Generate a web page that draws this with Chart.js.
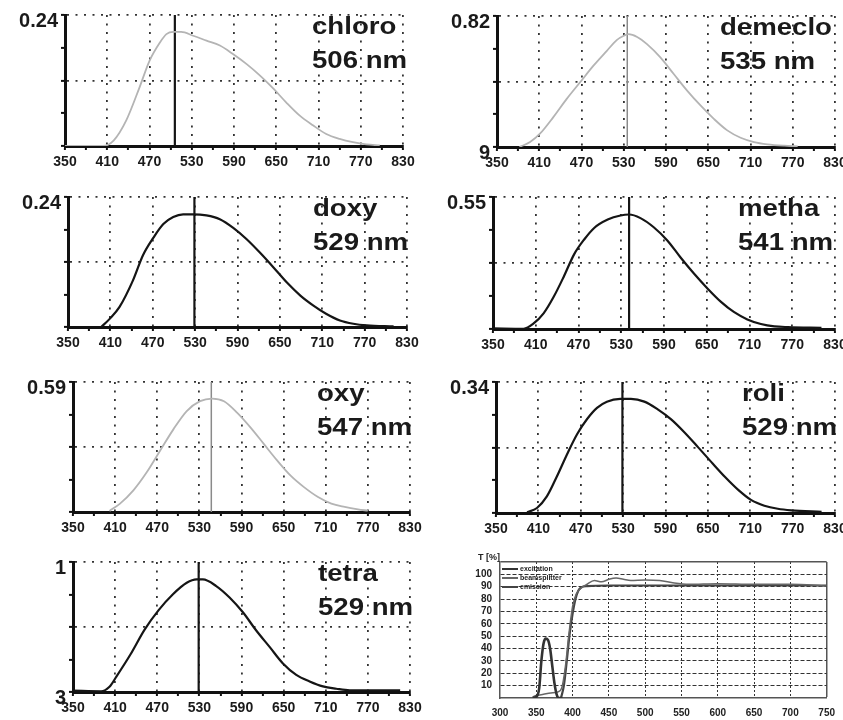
<!DOCTYPE html>
<html>
<head>
<meta charset="utf-8">
<script src="https://cdn.jsdelivr.net/npm/chart.js@4.4.0/dist/chart.umd.min.js"></script>
<style>
  html, body { margin: 0; padding: 0; background: #fff; }
  #fig { position: relative; width: 843px; height: 720px; overflow: hidden; background: #fff; }
  #fig canvas { position: absolute; }
</style>
</head>
<body>
<div id="fig"></div>
<script>
// emission spectra, wavelength (nm) vs intensity
const chloroWl  = [350, 385, 404, 419, 437, 456, 470, 485, 494, 504, 515, 532, 551, 570, 589, 608, 627, 646, 664, 683, 702, 721, 740, 759, 778, 797];
const chloroVal = [0, 0, 0, 0.010, 0.047, 0.108, 0.156, 0.190, 0.205, 0.209, 0.209, 0.202, 0.193, 0.184, 0.168, 0.150, 0.129, 0.105, 0.080, 0.056, 0.038, 0.022, 0.013, 0.007, 0.003, 0.001];

const demecloWl  = [382, 397, 411, 430, 449, 468, 487, 506, 520, 530, 537, 549, 563, 582, 601, 620, 639, 658, 677, 696, 715, 734, 758, 777];
const demecloVal = [0, 0.031, 0.083, 0.187, 0.301, 0.405, 0.509, 0.602, 0.669, 0.696, 0.706, 0.689, 0.644, 0.561, 0.457, 0.353, 0.260, 0.176, 0.104, 0.058, 0.031, 0.017, 0.008, 0.004];

const doxyWl  = [397, 409, 423, 442, 456, 471, 485, 499, 513, 527, 546, 565, 584, 603, 622, 641, 660, 679, 697, 716, 735, 754, 773, 811];
const doxyVal = [0, 0.015, 0.037, 0.086, 0.132, 0.165, 0.190, 0.203, 0.208, 0.208, 0.206, 0.199, 0.183, 0.162, 0.137, 0.110, 0.082, 0.058, 0.040, 0.024, 0.012, 0.006, 0.003, 0.001];

const methaWl  = [350, 393, 407, 421, 435, 449, 464, 478, 492, 511, 529, 541, 557, 576, 595, 613, 632, 651, 670, 688, 707, 726, 745, 764, 811];
const methaVal = [0.003, 0.001, 0.023, 0.065, 0.133, 0.216, 0.312, 0.373, 0.421, 0.456, 0.473, 0.477, 0.462, 0.423, 0.368, 0.299, 0.231, 0.169, 0.113, 0.071, 0.040, 0.021, 0.011, 0.008, 0.005];

const oxyWl  = [402, 417, 436, 455, 474, 493, 512, 531, 548, 565, 584, 603, 622, 641, 660, 679, 699, 718, 737, 756, 770];
const oxyVal = [0.005, 0.038, 0.098, 0.180, 0.278, 0.375, 0.458, 0.503, 0.515, 0.503, 0.450, 0.383, 0.308, 0.233, 0.165, 0.113, 0.068, 0.038, 0.023, 0.012, 0.006];

const roliWl  = [394, 408, 422, 436, 451, 465, 479, 493, 507, 526, 541, 560, 579, 598, 617, 636, 655, 674, 693, 711, 730, 749, 768, 811];
const roliVal = [0.002, 0.013, 0.043, 0.094, 0.154, 0.205, 0.244, 0.273, 0.289, 0.296, 0.296, 0.289, 0.269, 0.243, 0.209, 0.171, 0.132, 0.094, 0.060, 0.034, 0.019, 0.011, 0.007, 0.003];

const tetraWl  = [350, 390, 402, 412, 432, 452, 472, 492, 512, 526, 535, 554, 573, 592, 611, 630, 649, 668, 687, 706, 725, 744, 816];
const tetraVal = [0.01, 0.005, 0.04, 0.12, 0.29, 0.48, 0.63, 0.75, 0.84, 0.866, 0.866, 0.815, 0.727, 0.613, 0.473, 0.347, 0.22, 0.132, 0.081, 0.043, 0.025, 0.013, 0.013];

const names      = ['chloro', 'demeclo', 'doxy', 'metha', 'oxy', 'roli', 'tetra'];
const peaks      = [506, 535, 529, 541, 547, 529, 529];
const yMaxes     = [0.24, 0.82, 0.24, 0.55, 0.59, 0.34, 1];
const topLabels  = ['0.24', '0.82', '0.24', '0.55', '0.59', '0.34', '1'];
const botLabels  = ['', '9', '', '', '', '', '3'];
const xTickLabels = [350, 410, 470, 530, 590, 650, 710, 770, 830];

// filter transmission, T [%]
const excWl  = [345, 350, 354, 357, 360, 363, 366, 369, 372, 375, 378, 381, 386];
const excVal = [0, 1, 8, 30, 44, 48, 47, 40, 26, 12, 3, 0, 0];
const bsWl   = [345, 350, 360, 370, 380, 385, 390, 395, 400, 405, 410, 420, 430, 440, 450, 460, 470, 480, 500, 520, 540, 560, 600, 650, 700, 750];
const bsVal  = [1, 2, 3, 4, 5, 8, 25, 52, 74, 84, 88, 92, 95, 94, 96, 97, 96, 95, 95.5, 95, 93, 92, 92.5, 92, 92, 90.5];
const emWl   = [384, 388, 392, 396, 400, 404, 408, 412, 420, 450, 500, 550, 600, 650, 700, 750];
const emVal  = [0, 10, 30, 52, 68, 80, 87, 89.5, 90.5, 91, 91, 91, 91, 91, 91, 91];
const filterNames = ['excitation', 'beamsplitter', 'emission'];

// plot boxes on the page [left, top, right, bottom]
const boxes = [
  [65, 14, 403, 146], [497, 15, 835, 147],
  [68, 196, 407, 327], [493, 196, 835, 329],
  [73, 381, 410, 512], [496, 381, 835, 513],
  [73, 561, 410, 692]
];
const labelDx = [-91, -115, -94, -97, -93, -93, -92];
const grayCurve = [true, true, false, false, true, false, false];

Chart.defaults.font.family = "'Liberation Sans', Arial, sans-serif";
Chart.defaults.animation = false;

const fig = document.getElementById('fig');
const PAD_L = 60, PAD_T = 14, PAD_R = 16, PAD_B = 26;

function makeCanvas(left, top, w, h) {
  const c = document.createElement('canvas');
  c.width = w; c.height = h;
  c.style.left = left + 'px'; c.style.top = top + 'px';
  c.style.width = w + 'px'; c.style.height = h + 'px';
  fig.appendChild(c);
  return c;
}

const zip = (xs, ys) => xs.map((x, k) => ({ x: x, y: ys[k] }));

const panelText = {
  id: 'panelText',
  afterDraw(chart, args, opts) {
    const { ctx, chartArea } = chart;
    ctx.save();
    ctx.fillStyle = '#1a1a1a';
    ctx.font = "bold 24px 'Liberation Sans', Arial, sans-serif";
    ctx.textBaseline = 'alphabetic';
    const x = chartArea.right + opts.dx;
    [[opts.name, 19], [opts.nm, 53]].forEach(([t, dy]) => {
      ctx.save();
      ctx.translate(x, chartArea.top + dy);
      ctx.scale(1.15, 1);
      ctx.fillText(t, 0, 0);
      ctx.restore();
    });
    ctx.restore();
  }
};

const dots = [2, 6.5];

names.forEach((name, i) => {
  const b = boxes[i];
  const w = b[2] - b[0] + PAD_L + PAD_R;
  const h = b[3] - b[1] + PAD_T + PAD_B;
  const canvas = makeCanvas(b[0] - PAD_L, b[1] - PAD_T, w, h);
  const wl = [chloroWl, demecloWl, doxyWl, methaWl, oxyWl, roliWl, tetraWl][i];
  const val = [chloroVal, demecloVal, doxyVal, methaVal, oxyVal, roliVal, tetraVal][i];
  const curveColor = grayCurve[i] ? '#b4b4b4' : '#151515';
  const peakColor = grayCurve[i] && i !== 0 ? '#8a8a8a' : '#151515';

  new Chart(canvas, {
    type: 'line',
    data: {
      datasets: [
        {
          data: zip(wl, val),
          borderColor: curveColor,
          borderWidth: grayCurve[i] ? 1.8 : 2.2,
          pointRadius: 0,
          cubicInterpolationMode: 'monotone',
          fill: false
        },
        {
          data: [{ x: peaks[i], y: 0 }, { x: peaks[i], y: yMaxes[i] }],
          borderColor: peakColor,
          borderWidth: peakColor === '#151515' ? 2.2 : 1.5,
          pointRadius: 0,
          tension: 0
        }
      ]
    },
    options: {
      responsive: false,
      layout: { padding: { top: PAD_T, right: PAD_R, left: 0, bottom: 0 } },
      plugins: {
        legend: { display: false },
        tooltip: { enabled: false },
        panelText: { name: name, nm: peaks[i] + ' nm', dx: labelDx[i] }
      },
      scales: {
        x: {
          type: 'linear', min: 350, max: 830,
          ticks: {
            stepSize: 30, autoSkip: false, maxRotation: 0, padding: 4,
            color: '#1a1a1a', font: { size: 14, weight: 'bold' },
            callback: v => xTickLabels.includes(v) ? String(v) : ''
          },
          grid: {
            color: c => (c.index > 0 && c.index % 2 === 0) ? '#333' : 'rgba(0,0,0,0)',
            lineWidth: 1.8, tickColor: '#111', tickLength: 4, tickWidth: 2
          },
          border: { color: '#111', width: 3, dash: dots },
          afterFit: s => { s.height = PAD_B; }
        },
        y: {
          min: 0, max: yMaxes[i],
          ticks: {
            count: 5, autoSkip: false, padding: 3, labelOffset: 6,
            color: '#1a1a1a', font: { size: 20, weight: 'bold' },
            callback: (v, k) => k === 4 ? topLabels[i] : (k === 0 ? botLabels[i] : '')
          },
          grid: {
            color: c => (c.index === 2 || c.index === 4) ? '#333' : 'rgba(0,0,0,0)',
            lineWidth: 1.8, tickColor: '#111', tickLength: 4, tickWidth: 2
          },
          border: { color: '#111', width: 3, dash: dots },
          afterFit: s => { s.width = PAD_L; }
        }
      }
    },
    plugins: [panelText]
  });
});

// filter transmission panel
const filterText = {
  id: 'filterText',
  afterDraw(chart) {
    const { ctx, chartArea } = chart;
    ctx.save();
    ctx.fillStyle = '#222';
    ctx.font = "bold 9px 'Liberation Sans', Arial, sans-serif";
    ctx.textBaseline = 'middle';
    ctx.fillText('T [%]', chartArea.left - 22, chartArea.top - 4);
    ctx.font = "bold 7px 'Liberation Sans', Arial, sans-serif";
    chart.data.datasets.forEach((ds, k) => {
      const y = chartArea.top + 7 + k * 9;
      ctx.strokeStyle = ds.borderColor;
      ctx.lineWidth = 2;
      ctx.beginPath();
      ctx.moveTo(chartArea.left + 2, y);
      ctx.lineTo(chartArea.left + 18, y);
      ctx.stroke();
      ctx.fillText(ds.label, chartArea.left + 20, y);
    });
    ctx.restore();
  }
};

{
  const b = [500, 562, 828, 698];
  const padL = 30, padB = 22;
  const w = b[2] - b[0] + padL + PAD_R;
  const h = b[3] - b[1] + PAD_T + padB;
  const canvas = makeCanvas(b[0] - padL, b[1] - PAD_T, w, h);
  new Chart(canvas, {
    type: 'line',
    data: {
      datasets: [
        { label: filterNames[0], data: zip(excWl, excVal), borderColor: '#333', borderWidth: 2.6, pointRadius: 0, cubicInterpolationMode: 'monotone' },
        { label: filterNames[1], data: zip(bsWl, bsVal), borderColor: '#666', borderWidth: 1.5, pointRadius: 0, cubicInterpolationMode: 'monotone' },
        { label: filterNames[2], data: zip(emWl, emVal), borderColor: '#444', borderWidth: 2.2, pointRadius: 0, cubicInterpolationMode: 'monotone' }
      ]
    },
    options: {
      responsive: false,
      layout: { padding: { top: PAD_T, right: PAD_R, left: 0, bottom: 0 } },
      plugins: { legend: { display: false }, tooltip: { enabled: false } },
      scales: {
        x: {
          type: 'linear', min: 300, max: 750,
          ticks: { stepSize: 50, autoSkip: false, maxRotation: 0, padding: 9, color: '#222', font: { size: 10, weight: 'bold' } },
          grid: {
            drawTicks: false,
            color: c => c.index === 0 ? 'rgba(0,0,0,0)' : (c.index === 9 ? '#555' : '#333'),
            lineWidth: c => c.index === 9 ? 1.5 : 1
          },
          border: { color: '#555', width: 1.5, dash: c => c.index === 9 ? [] : [2, 2] },
          afterFit: s => { s.height = padB; }
        },
        y: {
          min: 0, max: 110,
          ticks: {
            stepSize: 10, autoSkip: false, padding: 8, color: '#222', font: { size: 10, weight: 'bold' },
            callback: v => (v >= 10 && v <= 100) ? String(v) : ''
          },
          grid: {
            drawTicks: false,
            color: c => c.index === 0 ? 'rgba(0,0,0,0)' : (c.index === 11 ? '#555' : '#333'),
            lineWidth: c => c.index === 11 ? 1.5 : 1
          },
          border: { color: '#555', width: 1.5, dash: c => c.index === 11 ? [] : [4, 2] },
          afterFit: s => { s.width = padL; }
        }
      }
    },
    plugins: [filterText]
  });
}
</script>
</body>
</html>
